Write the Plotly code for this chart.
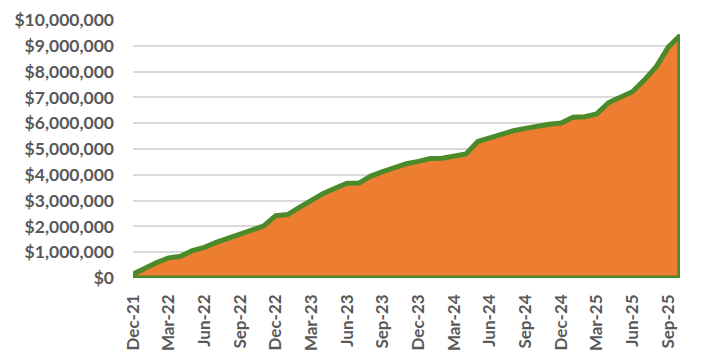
import plotly.graph_objects as go

months = ["Dec-21",
          "Jan-22", "Feb-22", "Mar-22", "Apr-22", "May-22", "Jun-22", "Jul-22", "Aug-22", "Sep-22", "Oct-22", "Nov-22", "Dec-22",
          "Jan-23", "Feb-23", "Mar-23", "Apr-23", "May-23", "Jun-23", "Jul-23", "Aug-23", "Sep-23", "Oct-23", "Nov-23", "Dec-23",
          "Jan-24", "Feb-24", "Mar-24", "Apr-24", "May-24", "Jun-24", "Jul-24", "Aug-24", "Sep-24", "Oct-24", "Nov-24", "Dec-24",
          "Jan-25", "Feb-25", "Mar-25", "Apr-25", "May-25", "Jun-25", "Jul-25", "Aug-25", "Sep-25", "Oct-25"]

values = [150000,
          400000, 600000, 780000, 840000, 1060000, 1190000, 1380000, 1540000, 1670000, 1830000, 2020000, 2420000,
          2460000, 2740000, 3020000, 3280000, 3480000, 3670000, 3680000, 3950000, 4120000, 4280000, 4430000, 4520000,
          4630000, 4640000, 4720000, 4810000, 5290000, 5440000, 5580000, 5710000, 5800000, 5890000, 5960000, 6010000,
          6230000, 6250000, 6360000, 6800000, 6990000, 7220000, 7670000, 8190000, 8940000, 9400000]

tick_labels = months[::3]

# closed polygon: series, then back along the baseline
poly_x = months + [months[-1], months[0]]
poly_y = values + [0, 0]

fig = go.Figure()
fig.add_trace(go.Scatter(
    x=poly_x, y=poly_y,
    mode="lines",
    fill="toself",
    fillcolor="#ED7D31",
    line=dict(color="#4B8A28", width=5),
    cliponaxis=False,
    hoverinfo="skip",
    showlegend=False,
))

font_family = "Lato, 'Open Sans', sans-serif"
# the page body adds an 8px margin, so the figure is drawn 8px smaller
fig.update_layout(
    width=694, height=356,
    margin=dict(l=125, r=22, t=12, b=86),
    paper_bgcolor="white",
    plot_bgcolor="white",
    font=dict(family=font_family, color="#595959"),
    xaxis=dict(
        type="category",
        range=[0, len(months) - 1],
        tickmode="array",
        tickvals=tick_labels,
        ticktext=tick_labels,
        tickangle=-90,
        tickfont=dict(size=17, family=font_family, color="#595959", weight="bold"),
        showgrid=False,
        zeroline=False,
        showline=False,
        ticks="",
        ticklabelstandoff=12,
        automargin=False,
    ),
    yaxis=dict(
        range=[0, 10000000],
        dtick=1000000,
        tickprefix="$",
        tickformat=",.0f",
        tickfont=dict(size=17.5, family=font_family, color="#595959", weight="bold"),
        showgrid=True,
        gridcolor="#D9D9D9",
        gridwidth=1.5,
        zeroline=False,
        showline=False,
        ticks="",
        ticklabelstandoff=18,
        automargin=False,
    ),
)

fig.write_html("out.html")
